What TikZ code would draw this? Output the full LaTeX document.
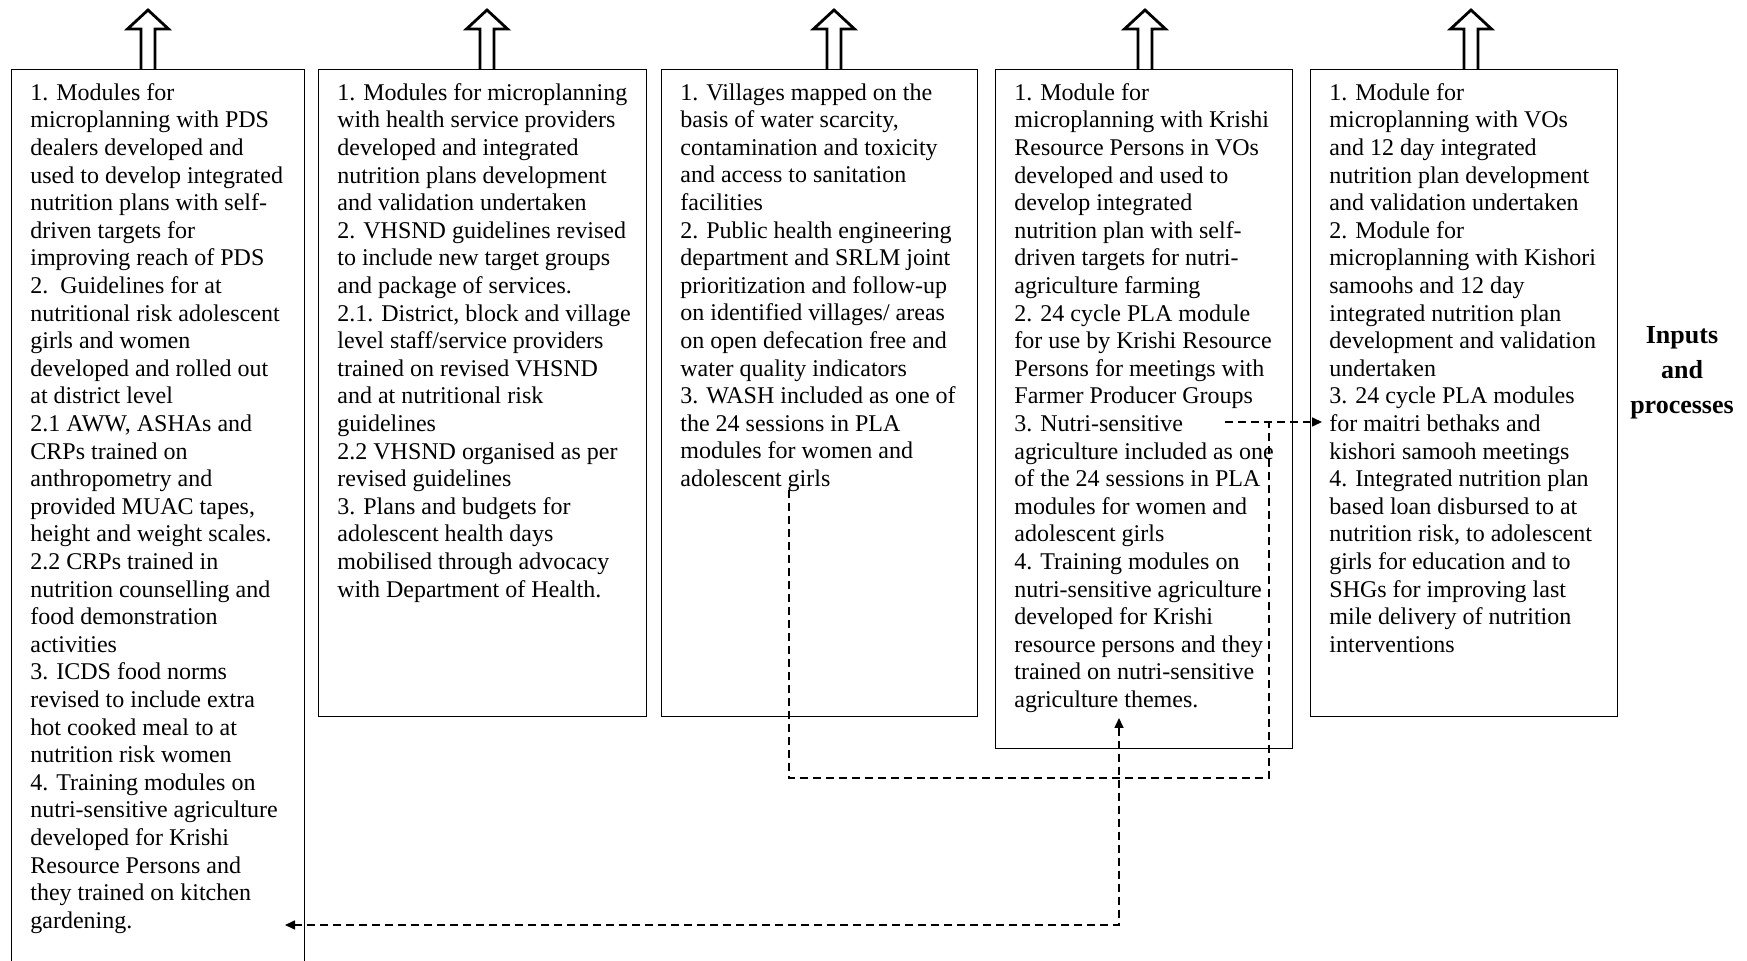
\documentclass[tikz,border=0pt]{standalone}
\usepackage{fontspec}
\setmainfont{Liberation Serif}
\usetikzlibrary{arrows.meta, positioning}

\begin{document}
\begin{tikzpicture}[x=0.5pt, y=-0.5pt,
    >={Triangle[length=5pt,width=4.5pt]},
    frame/.style={draw, line width=0.7pt, anchor=north west, inner sep=0pt},
    txt/.style={align=left, inner sep=0pt, font=\fontsize{12}{13.8}\selectfont},
    link/.style={dash pattern=on 4pt off 2.5pt, line width=0.8pt},
    blockup/.style={draw, line width=1.4pt, fill=white, line join=miter}]
    \useasboundingbox (0,0) rectangle (1747,961);

    % block arrows on top
    \foreach \ax in {148, 487, 834, 1145, 1471}
        \draw[blockup] (\ax-7,69) -- (\ax-7,29) -- (\ax-20.5,29) -- (\ax,10)
            -- (\ax+20.5,29) -- (\ax+7,29) -- (\ax+7,69);

    % boxes
    \node[frame, minimum width=146.5pt, minimum height=460pt] (b1) at (11,69) {};
    \node[frame, minimum width=164pt, minimum height=323.5pt] (b2) at (318,69) {};
    \node[frame, minimum width=158pt, minimum height=323.5pt] (b3) at (661,69) {};
    \node[frame, minimum width=148.5pt, minimum height=339.5pt] (b4) at (995,69) {};
    \node[frame, minimum width=153.5pt, minimum height=323.5pt] (b5) at (1310,69) {};

    % box texts
    \node[txt, below right=7pt and 9.5pt of b1.north west] (t1) {1. Modules for\\
        microplanning with PDS\\ dealers developed and\\ used to develop integrated\\
        nutrition plans with self-\\ driven targets for\\ improving reach of PDS\\
        2.\ \ Guidelines for at\\ nutritional risk adolescent\\ girls and women\\
        developed and rolled out\\ at district level\\ 2.1 AWW, ASHAs and\\
        CRPs trained on\\ anthropometry and\\ provided MUAC tapes,\\
        height and weight scales.\\ 2.2 CRPs trained in\\ nutrition counselling and\\
        food demonstration\\ activities\\ 3. ICDS food norms\\ revised to include extra\\
        hot cooked meal to at\\ nutrition risk women\\ 4. Training modules on\\
        nutri-sensitive agriculture\\ developed for Krishi\\ Resource Persons and\\
        they trained on kitchen\\ gardening.};
    \node[txt, below right=7pt and 9.5pt of b2.north west] (t2) {1. Modules for microplanning\\
        with health service providers\\ developed and integrated\\
        nutrition plans development\\ and validation undertaken\\
        2. VHSND guidelines revised\\ to include new target groups\\
        and package of services.\\ 2.1. District, block and village\\
        level staff/service providers\\ trained on revised VHSND\\
        and at nutritional risk\\ guidelines\\ 2.2 VHSND organised as per\\
        revised guidelines\\ 3. Plans and budgets for\\ adolescent health days\\
        mobilised through advocacy\\ with Department of Health.};
    \node[txt, below right=7pt and 9.5pt of b3.north west] (t3) {1. Villages mapped on the\\
        basis of water scarcity,\\ contamination and toxicity\\
        and access to sanitation\\ facilities\\ 2. Public health engineering\\
        department and SRLM joint\\ prioritization and follow-up\\
        on identified villages/ areas\\ on open defecation free and\\
        water quality indicators\\ 3. WASH included as one of\\
        the 24 sessions in PLA\\ modules for women and\\ adolescent girls};
    \node[txt, below right=7pt and 9.5pt of b4.north west] (t4) {1. Module for\\
        microplanning with Krishi\\ Resource Persons in VOs\\ developed and used to\\
        develop integrated\\ nutrition plan with self-\\ driven targets for nutri-\\
        agriculture farming\\ 2. 24 cycle PLA module\\ for use by Krishi Resource\\
        Persons for meetings with\\ Farmer Producer Groups\\ 3. Nutri-sensitive\\
        agriculture included as one\\ of the 24 sessions in PLA\\
        modules for women and\\ adolescent girls\\ 4. Training modules on\\
        nutri-sensitive agriculture\\ developed for Krishi\\
        resource persons and they\\ trained on nutri-sensitive\\
        agriculture themes.};
    \node[txt, below right=7pt and 9.5pt of b5.north west] (t5) {1. Module for\\
        microplanning with VOs\\ and 12 day integrated\\ nutrition plan development\\
        and validation undertaken\\ 2. Module for\\ microplanning with Kishori\\
        samoohs and 12 day\\ integrated nutrition plan\\ development and validation\\
        undertaken\\ 3. 24 cycle PLA modules\\ for maitri bethaks and\\
        kishori samooh meetings\\ 4. Integrated nutrition plan\\
        based loan disbursed to at\\ nutrition risk, to adolescent\\
        girls for education and to\\ SHGs for improving last\\
        mile delivery of nutrition\\ interventions};

    % side label
    \node[align=center, font=\bfseries\fontsize{13}{17.5}\selectfont] (inp) at (1682,373)
        {Inputs\\and\\processes};

    % dashed links
    \coordinate (wash) at (789,490);
    \coordinate (low) at (1269,778);
    \coordinate (junc) at (1269,422);
    \coordinate (nutri) at (1225,422);
    \coordinate (maitri) at (1322,422);
    \coordinate (themes) at (1119,718);
    \coordinate (garden) at (285,925);
    \draw[link] (wash) |- (low) -- (junc);
    \draw[link, ->] (nutri) -- (maitri);
    \draw[link, <->] (themes) |- (garden);
\end{tikzpicture}
\end{document}
